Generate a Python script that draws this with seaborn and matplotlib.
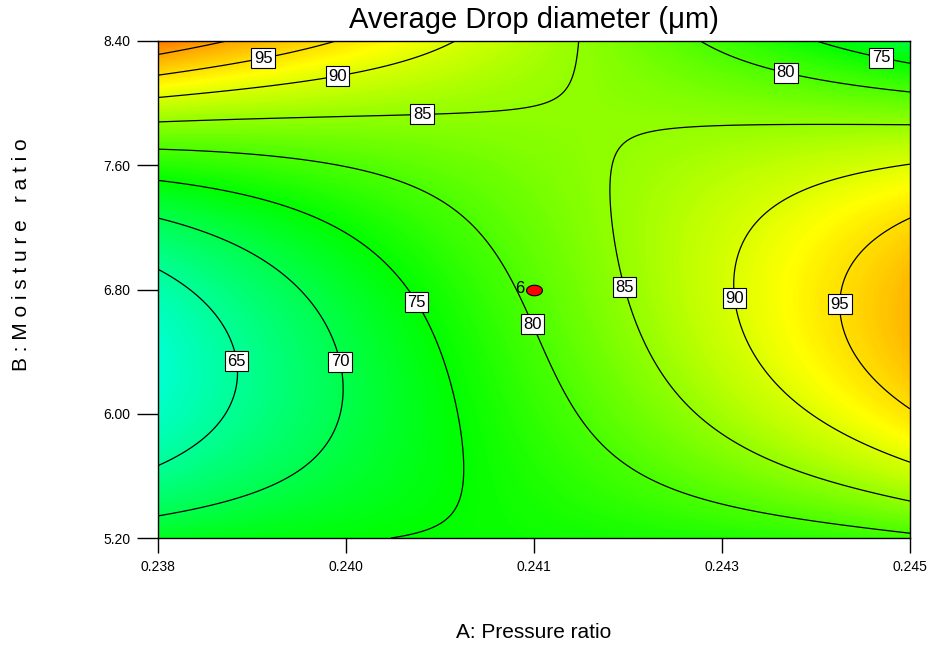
import numpy as np
import pandas as pd
import seaborn as sns
import matplotlib.pyplot as plt
from matplotlib.colors import LinearSegmentedColormap
from matplotlib.path import Path

# factor ranges (actual units)
a_range = [0.238, 0.245]
b_range = [5.20, 8.40]
a_ticklabels = ['0.238', '0.240', '0.241', '0.243', '0.245']
b_ticklabels = ['5.20', '6.00', '6.80', '7.60', '8.40']

# response model in coded factors (-1..1), estimated from the contour traces
coef_names = ['1', 'B', 'A', 'B^2', 'AB', 'A^2', 'B^3', 'AB^2', 'A^2B', 'A^3',
              'B^4', 'AB^3', 'A^2B^2', 'A^3B', 'A^4']
coef_vals = [80.815, 5.320, 17.325, 0.167, -8.770, -0.163, 0.175, -23.933, 0.039, 0.013,
             0.328, 0.202, 0.139, -1.192, 0.276]

levels = [65, 70, 75, 80, 85, 90, 95, 100]

# centre point of the design
design_a = [0.2415]
design_b = [6.80]
design_reps = ['6']

# colour scale stops: response value -> colour
cmap_vals = [41, 58, 75, 92.5, 103, 110]
cmap_cols = ['#0000FF', '#00FFFF', '#00FF00', '#FFFF00', '#FF8000', '#FF0000']


def to_a(x):
    return (a_range[0] + a_range[1]) / 2 + x * (a_range[1] - a_range[0]) / 2


def to_b(y):
    return (b_range[0] + b_range[1]) / 2 + y * (b_range[1] - b_range[0]) / 2


def term(name, x, y):
    out = np.ones_like(x)
    k = 0
    while k < len(name):
        ch = name[k]
        p = 1
        if k + 2 < len(name) + 1 and name[k + 1:k + 2] == '^':
            p = int(name[k + 2])
            k += 2
        if ch == 'A':
            out = out * x**p
        elif ch == 'B':
            out = out * y**p
        k += 1
    return out


gx, gy = np.meshgrid(np.linspace(-1, 1, 300), np.linspace(-1, 1, 300))
Z = np.zeros_like(gx)
for name, v in zip(coef_names, coef_vals):
    Z += v * term(name, gx, gy)
A = to_a(gx)
B = to_b(gy)

sns.set_theme(style='ticks')
plt.rcParams['font.family'] = ['Liberation Sans', 'DejaVu Sans']
plt.rcParams['text.color'] = 'black'
plt.rcParams['axes.labelcolor'] = 'black'

fig = plt.figure(figsize=(9.48, 6.47), dpi=100)
ax = fig.add_axes([158 / 948, 1 - 538 / 647, 752 / 948, 497 / 647])

lo, hi = cmap_vals[0], cmap_vals[-1]
cmap = LinearSegmentedColormap.from_list(
    'de', [((v - lo) / (hi - lo), c) for v, c in zip(cmap_vals, cmap_cols)])
ax.contourf(A, B, Z, levels=256, cmap=cmap, vmin=lo, vmax=hi)
cs = ax.contour(A, B, Z, levels=levels, colors='black', linewidths=0.9)

# label spots (coded units), one per labelled branch
spots = [(-0.723, 0.95), (-0.524, 0.873), (-0.298, 0.72), (0.673, 0.893), (0.926, 0.954),
         (-0.777, -0.286), (-0.5, -0.286), (-0.295, -0.036), (0.0, -0.137),
         (0.25, 0.012), (0.529, -0.036), (0.809, -0.06)]
texts = ax.clabel(cs, levels[:-1], inline=False, fmt='%d', fontsize=12,
                  manual=[(to_a(x), to_b(y)) for x, y in spots])
for t in texts:
    t.set_rotation(0)
    t.set_color('black')
    t.set_bbox(dict(boxstyle='square,pad=0.15', fc='white', ec='black', lw=0.8))

# elliptical design point marker
th = np.linspace(0, 2 * np.pi, 60)
ell = Path(np.column_stack([1.5 * np.cos(th), np.sin(th)]))
df = pd.DataFrame({'A': design_a, 'B': design_b})
sns.scatterplot(data=df, x='A', y='B', marker=ell, s=130, color='red',
                edgecolor='black', linewidth=0.8, ax=ax, zorder=5, legend=False)
for a, b, n in zip(design_a, design_b, design_reps):
    ax.annotate(n, (a, b), xytext=(-7, 1), textcoords='offset points',
                ha='right', va='center', fontsize=12, color='black')

ax.set_xlim(a_range)
ax.set_ylim(b_range)
ax.set_xticks(np.linspace(a_range[0], a_range[1], 5))
ax.set_xticklabels(a_ticklabels)
ax.set_yticks(np.linspace(b_range[0], b_range[1], 5))
ax.set_yticklabels(b_ticklabels)
ax.tick_params(axis='x', length=11, width=1, pad=5, labelsize=10, color='black', labelcolor='black')
ax.tick_params(axis='y', length=15, width=1, pad=5, labelsize=10, color='black', labelcolor='black')
for sp in ax.spines.values():
    sp.set_color('black')
    sp.set_linewidth(1)

ax.set_title('Average Drop diameter (μm)', fontsize=21, y=1 + 21 / 497, va='center', pad=0)
ax.set_xlabel('A: Pressure ratio', fontsize=15, va='center')
ax.xaxis.set_label_coords(0.5, -(633 - 538) / 497)
ax.set_ylabel('B : M o i s t u r e   r a t i o', fontsize=15, va='center')
ax.yaxis.set_label_coords((22 - 158) / 752, (538 - 255) / 497)

fig.savefig('out.png', dpi=100)
